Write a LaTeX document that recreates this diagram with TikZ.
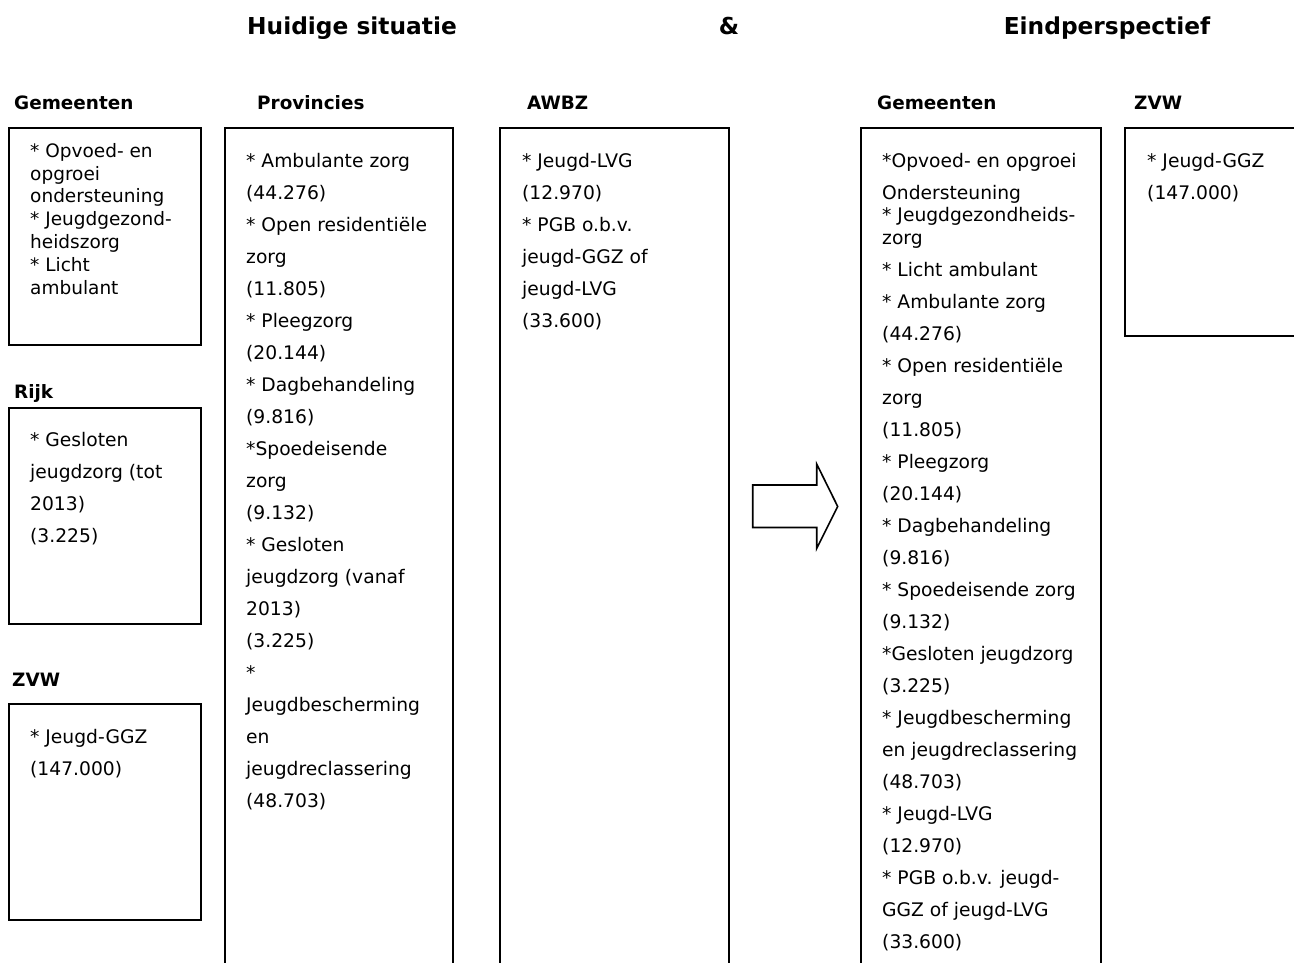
\documentclass[tikz,border=0pt]{standalone}
\usepackage{fontspec}
\setmainfont{DejaVu Sans}
\tikzset{
  box/.style={line width=1.7pt, line join=miter},
  body/.style={anchor=north west, inner sep=0pt, align=left, font=\fontsize{18.7}{32}\selectfont},
  bodytight/.style={body, font=\fontsize{18.5}{22.8}\selectfont},
  hdr/.style={anchor=base west, inner sep=0pt, font=\fontsize{18.4}{22}\selectfont\bfseries},
  ttl/.style={anchor=base, inner sep=0pt, font=\fontsize{23.3}{28}\selectfont\bfseries},
  bigarrow/.style={line width=1.6pt, line join=miter}
}
\newcommand{\fl}{\rule{0pt}{16pt}}
\begin{document}
\begin{tikzpicture}[x=1pt,y=-1pt]
\useasboundingbox (0,0) rectangle (1294,963);
\clip (0,0) rectangle (1294,963);

% titles
\node[ttl] (t1) at (352,35) {Huidige situatie};
\node[ttl] (t2) at (729,35) {\&};
\node[ttl] (t3) at (1107,35) {Eindperspectief};

% headers
\node[hdr] (hGem) at (14,110) {Gemeenten};
\node[hdr] (hProv) at (257,110) {Provincies};
\node[hdr] (hAwbz) at (527,110) {AWBZ};
\node[hdr] (hGem2) at (877,110) {Gemeenten};
\node[hdr] (hZvw2) at (1134,110) {ZVW};
\node[hdr] (hRijk) at (14,398) {Rijk};
\node[hdr] (hZvw) at (12,686) {ZVW};

% boxes
\draw[box] (9,128) rectangle (201,345);
\draw[box] (9,408) rectangle (201,624);
\draw[box] (9,704) rectangle (201,920);
\draw[box] (225,975) -- (225,128) -- (453,128) -- (453,975);
\draw[box] (500,975) -- (500,128) -- (729,128) -- (729,975);
\draw[box] (861,975) -- (861,128) -- (1101,128) -- (1101,975);
\draw[box] (1310,128) -- (1125,128) -- (1125,336) -- (1310,336);

% arrow
\draw[bigarrow] (752.7,485) -- (816.7,485) -- (816.7,464) -- (837.7,506.5)
  -- (816.7,548.5) -- (816.7,527.5) -- (752.7,527.5) -- cycle;

% texts
\node[bodytight] (gem) at (30,141) {\fl* Opvoed- en\\opgroei\\ondersteuning\\* Jeugdgezond-\\heidszorg\\* Licht\\ambulant};

\node[body] (rijk) at (30,430) {\fl* Gesloten\\jeugdzorg (tot\\2013)\\(3.225)};

\node[body] (zvw) at (30,727) {\fl* Jeugd-GGZ\\(147.000)};

\node[body] (prov) at (246,151) {\fl* Ambulante zorg\\(44.276)\\* Open residentiële\\zorg\\(11.805)\\* Pleegzorg\\(20.144)\\* Dagbehandeling\\(9.816)\\*Spoedeisende\\zorg\\(9.132)\\* Gesloten\\jeugdzorg (vanaf\\2013)\\(3.225)\\*\\Jeugdbescherming\\en\\jeugdreclassering\\(48.703)};

\node[body] (awbz) at (522,151) {\fl* Jeugd-LVG\\(12.970)\\* PGB o.b.v.\\jeugd-GGZ of\\jeugd-LVG\\(33.600)};

\node[body] (gem2) at (882,151) {\fl*Opvoed- en opgroei\\Ondersteuning\\[-9.5pt]* Jeugdgezondheids-\\[-9.5pt]zorg\\* Licht ambulant\\* Ambulante zorg\\(44.276)\\* Open residentiële\\zorg\\(11.805)\\* Pleegzorg\\(20.144)\\* Dagbehandeling\\(9.816)\\* Spoedeisende zorg\\(9.132)\\*Gesloten jeugdzorg\\(3.225)\\* Jeugdbescherming\\en jeugdreclassering\\(48.703)\\* Jeugd-LVG\\(12.970)\\* PGB o.b.v. jeugd-\\GGZ of jeugd-LVG\\(33.600)};

\node[body] (zvw2) at (1147,151) {\fl* Jeugd-GGZ\\(147.000)};
\end{tikzpicture}
\end{document}
